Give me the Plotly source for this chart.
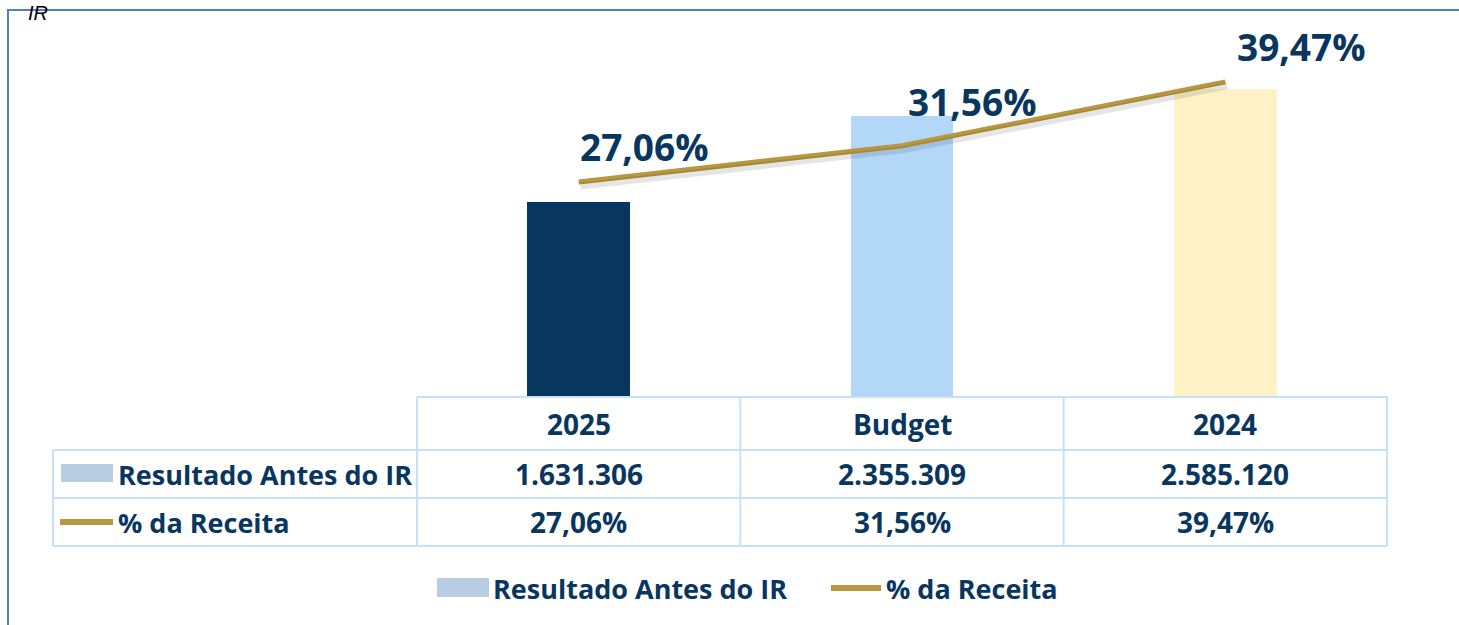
import plotly.graph_objects as go

# ---------------- data ----------------
categories = ["2025", "Budget", "2024"]
resultado = [1631306, 2355309, 2585120]
pct_receita = [27.06, 31.56, 39.47]
series_names = ["Resultado Antes do IR", "% da Receita"]
bar_colors = ["#08365F", "#B3D7F7", "#FFF2C6"]
corner_title = "IR"


def fmt_int(v):
    return f"{v:,}".replace(",", ".")


def fmt_pct(p):
    return f"{p:.2f}".replace(".", ",") + "%"


resultado_labels = [fmt_int(v) for v in resultado]
pct_labels = [fmt_pct(p) for p in pct_receita]

# ---------------- layout constants (pixels) ----------------
W, H = 1459, 625
PX0, PX1 = 417, 1387      # plot / table data columns
PY0, PY1 = 38, 397        # plot top / baseline
TAB_L = 53                # table left edge
ROW_Y = [397, 450, 498, 546]
NAVY = "#08365F"
GOLD = "#B8983E"
GRID = "#C6E0F8"
SWATCH = "#B8CCE4"
FONT = "'Open Sans', sans-serif"
Y2_RANGE = [0.37, 44.92]


def px(x):
    return x / W


def py(y):
    return 1 - y / H


fig = go.Figure()

fig.add_trace(go.Bar(
    x=categories, y=resultado, name=series_names[0],
    marker=dict(color=bar_colors, line=dict(width=0)),
    width=0.318, showlegend=False, hoverinfo="x+y",
))
# soft shadow of the line (same data on slightly offset overlay axes)
fig.add_trace(go.Scatter(
    x=categories, y=pct_receita, xaxis="x2", yaxis="y3",
    mode="lines", line=dict(color="rgba(0,0,0,0.10)", width=7),
    showlegend=False, hoverinfo="skip",
))
fig.add_trace(go.Scatter(
    x=categories, y=pct_receita, name=series_names[1], yaxis="y2",
    mode="lines", line=dict(color=GOLD, width=5),
    showlegend=False,
))

shapes = []
annotations = []

# data labels for the line (category index used as x position)
xshift = [66, 70, 76]
yshift = [35, 44, 35]
for i, c in enumerate(categories):
    annotations.append(dict(
        x=i, y=pct_receita[i], xref="x", yref="y2", text=f"<b>{pct_labels[i]}</b>",
        showarrow=False, xshift=xshift[i], yshift=yshift[i],
        font=dict(family=FONT, size=37, color=NAVY),
    ))

# ---------------- data table ----------------
colw = (PX1 - PX0) / len(categories)
for k in range(len(categories) + 1):
    xx = PX0 + k * colw
    shapes.append(dict(type="line", xref="paper", yref="paper",
                       x0=px(xx), x1=px(xx), y0=py(ROW_Y[0]), y1=py(ROW_Y[3]),
                       line=dict(color=GRID, width=2)))
shapes.append(dict(type="line", xref="paper", yref="paper",
                   x0=px(TAB_L), x1=px(TAB_L), y0=py(ROW_Y[1]), y1=py(ROW_Y[3]),
                   line=dict(color=GRID, width=2)))
shapes.append(dict(type="line", xref="paper", yref="paper",
                   x0=px(PX0), x1=px(PX1), y0=py(ROW_Y[0]), y1=py(ROW_Y[0]),
                   line=dict(color=GRID, width=2)))
for yy in ROW_Y[1:]:
    shapes.append(dict(type="line", xref="paper", yref="paper",
                       x0=px(TAB_L), x1=px(PX1), y0=py(yy), y1=py(yy),
                       line=dict(color=GRID, width=2)))

rows = [categories, resultado_labels, pct_labels]
for r, vals in enumerate(rows):
    yc = (ROW_Y[r] + ROW_Y[r + 1]) / 2
    for k, v in enumerate(vals):
        annotations.append(dict(
            x=px(PX0 + (k + 0.5) * colw), y=py(yc), xref="paper", yref="paper",
            text=f"<b>{v}</b>", showarrow=False, xanchor="center", yanchor="middle",
            font=dict(family=FONT, size=28, color=NAVY),
        ))

# row labels with swatches
y_r1 = (ROW_Y[1] + ROW_Y[2]) / 2
y_r2 = (ROW_Y[2] + ROW_Y[3]) / 2
shapes.append(dict(type="rect", xref="paper", yref="paper",
                   x0=px(61), x1=px(113), y0=py(464), y1=py(482),
                   fillcolor=SWATCH, line=dict(width=0)))
shapes.append(dict(type="line", xref="paper", yref="paper",
                   x0=px(60), x1=px(113), y0=py(y_r2), y1=py(y_r2),
                   line=dict(color=GOLD, width=6)))
for yc, name in [(y_r1, series_names[0]), (y_r2, series_names[1])]:
    annotations.append(dict(
        x=px(116), y=py(yc), xref="paper", yref="paper",
        text=f"<b>{name}</b>", showarrow=False, xanchor="left", yanchor="middle",
        font=dict(family=FONT, size=27, color=NAVY),
    ))

# ---------------- bottom legend ----------------
LEG_Y = 588
shapes.append(dict(type="rect", xref="paper", yref="paper",
                   x0=px(437), x1=px(489), y0=py(578), y1=py(597),
                   fillcolor=SWATCH, line=dict(width=0)))
shapes.append(dict(type="line", xref="paper", yref="paper",
                   x0=px(831), x1=px(881), y0=py(LEG_Y), y1=py(LEG_Y),
                   line=dict(color=GOLD, width=6)))
annotations.append(dict(x=px(491), y=py(LEG_Y), xref="paper", yref="paper",
                        text=f"<b>{series_names[0]}</b>", showarrow=False,
                        xanchor="left", yanchor="middle",
                        font=dict(family=FONT, size=27, color=NAVY)))
annotations.append(dict(x=px(884), y=py(LEG_Y), xref="paper", yref="paper",
                        text=f"<b>{series_names[1]}</b>", showarrow=False,
                        xanchor="left", yanchor="middle",
                        font=dict(family=FONT, size=27, color=NAVY)))

# ---------------- frame & corner title ----------------
shapes.append(dict(type="rect", xref="paper", yref="paper",
                   x0=px(8), x1=px(W + 20), y0=py(10), y1=py(H + 20),
                   line=dict(color="#4F81BD", width=2), fillcolor="rgba(0,0,0,0)"))
annotations.append(dict(x=px(26), y=1, xref="paper", yref="paper",
                        text=f"<i>{corner_title}</i>", showarrow=False,
                        xanchor="left", yanchor="top",
                        font=dict(family="'Liberation Sans', Arial, sans-serif", size=20, color="#000000")))

SH_X, SH_Y = 2, 4   # shadow offset in pixels
fig.update_layout(
    width=W, height=H,
    margin=dict(l=0, r=0, t=0, b=0),
    paper_bgcolor="white", plot_bgcolor="rgba(0,0,0,0)",
    showlegend=False,
    bargap=0,
    xaxis=dict(domain=[px(PX0), px(PX1)], range=[-0.5, 2.5], visible=False,
               type="category", categoryorder="array", categoryarray=categories),
    xaxis2=dict(domain=[px(PX0 + SH_X), px(PX1 + SH_X)], range=[-0.5, 2.5], visible=False,
                type="category", categoryorder="array", categoryarray=categories,
                anchor="y3"),
    yaxis=dict(domain=[py(PY1), py(PY0)], range=[0, 3.01e6], visible=False),
    yaxis2=dict(domain=[py(PY1), py(PY0)], range=Y2_RANGE, visible=False,
                overlaying="y"),
    yaxis3=dict(domain=[py(PY1 + SH_Y), py(PY0 + SH_Y)], range=Y2_RANGE, visible=False,
                anchor="x2"),
    shapes=shapes,
    annotations=annotations,
)

fig.write_html("out.html", config={"displayModeBar": False},
               post_script="document.body.style.margin='0';document.body.style.overflow='hidden';")
